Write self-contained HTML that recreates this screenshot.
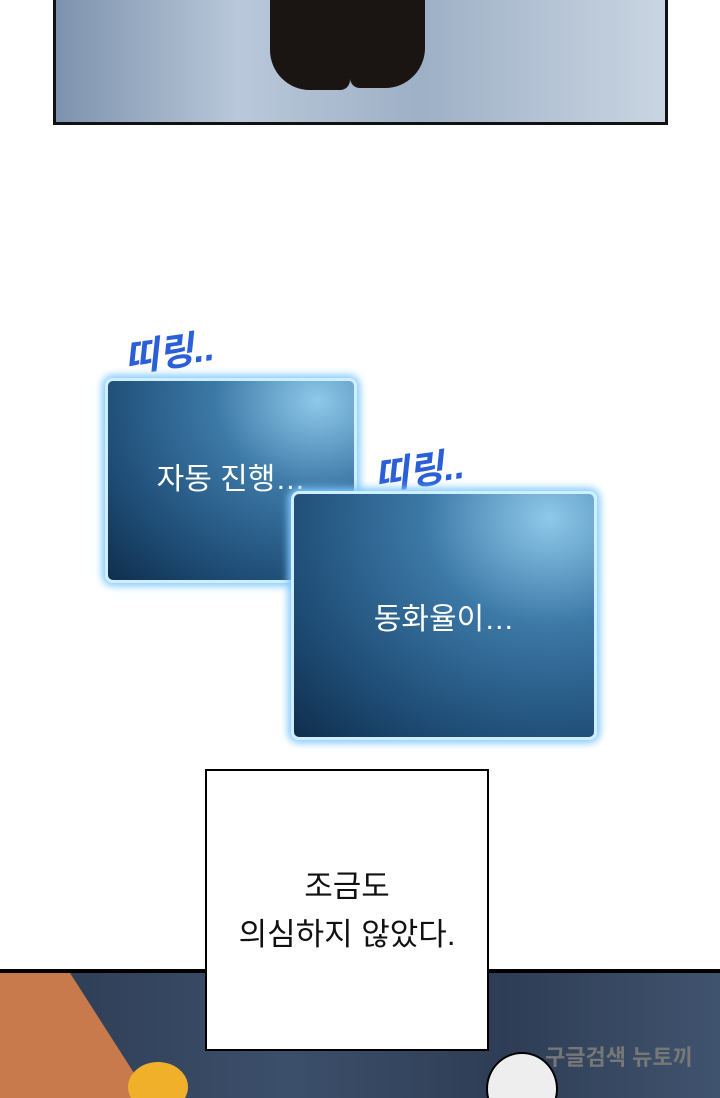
<!DOCTYPE html>
<html style="margin:0;width:720px;height:1098px;overflow:hidden"><head><meta charset="utf-8"><style>
body{margin:0;width:720px;height:1098px;background:#fff;position:relative;overflow:hidden;font-family:"Liberation Sans","Noto Sans CJK KR",sans-serif}
.a{position:absolute}
.box{position:absolute;box-sizing:border-box;border-radius:8px;border:3px solid #cfefff;box-shadow:0 0 8px 3px #7fc8ff;background:radial-gradient(ellipse at 85% 10%,#8ec9ea 0%,#3c78a6 35%,#1d4b74 75%,#102e4c 100%);color:#fff;display:flex;align-items:center;justify-content:center;font-size:30px}
.ring{position:absolute;color:#2a5fd8;font-size:38px;font-style:italic;font-weight:bold;transform:rotate(-8deg)}
</style></head><body>
<div class="a" style="left:53px;top:-3px;width:609px;height:122px;border:3px solid #111;background:linear-gradient(90deg,#7d92ad,#b9c8da 30%,#9eb0c6 60%,#c9d5e2);"></div>
<div class="a" style="left:270px;top:0;width:80px;height:90px;background:#1a1412;border-radius:0 0 10px 40px"></div>
<div class="a" style="left:350px;top:0;width:75px;height:88px;background:#1a1412;border-radius:0 0 40px 10px"></div>
<div class="ring" style="left:123px;top:322px">띠링..</div>
<div class="box" style="left:105px;top:378px;width:252px;height:205px;padding-bottom:10px">자동 진행…</div>
<div class="ring" style="left:373px;top:440px">띠링..</div>
<div class="box" style="left:291px;top:491px;width:306px;height:249px;">동화율이…</div>
<div class="a" style="left:0;top:969px;width:720px;height:129px;border-top:4px solid #000;background:linear-gradient(90deg,#2c3a52,#3c4f6a 40%,#2e3d55 70%,#40536e);"></div>
<div class="a" style="left:0;top:973px;width:150px;height:125px;background:#c87a4c;clip-path:polygon(0 0,70px 0,150px 125px,0 125px)"></div>
<div class="a" style="left:128px;top:1062px;width:60px;height:50px;border-radius:50%;background:#f0b02a"></div>
<div class="a" style="left:486px;top:1052px;width:68px;height:70px;border-radius:50%;background:#eee;border:2px solid #000"></div>
<div class="a" style="left:205px;top:769px;width:280px;height:278px;border:2px solid #000;background:#fff;text-align:center;font-size:31px;line-height:48px;color:#111"><div style="padding-top:92px">조금도<br>의심하지 않았다.</div></div>
<div class="a" style="left:545px;top:1040px;font-size:22px;color:#777;font-weight:bold">구글검색 뉴토끼</div>
</body></html>
